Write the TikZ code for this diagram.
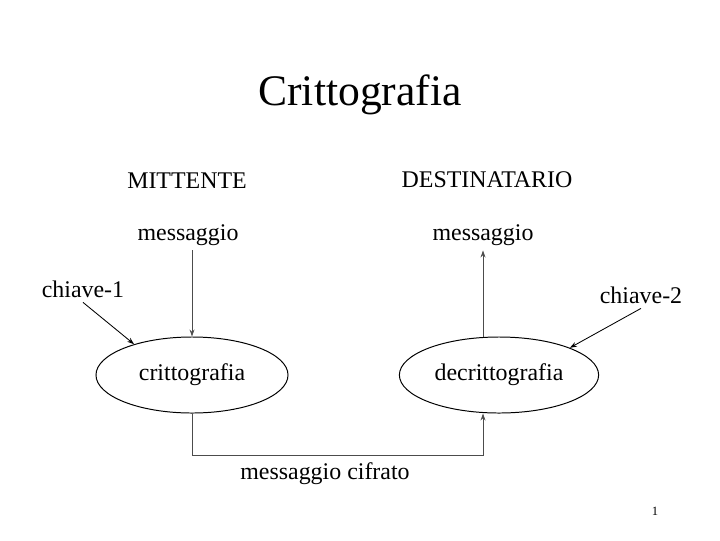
\documentclass[tikz,border=0pt]{standalone}
\usepackage{fontspec}
\setmainfont{Liberation Serif}
\usetikzlibrary{shapes.geometric,arrows.meta}
\tikzset{
  lbl/.style={font=\fontsize{17}{20}\selectfont},
  proc/.style={draw, ellipse, lbl, minimum height=1.9cm, line width=0.7pt},
  link/.style={->, gray!60!black, line width=0.6pt},
}
\begin{document}
\begin{tikzpicture}[x=0.025cm, y=-0.025cm, >={Stealth[length=5pt,width=3.5pt]}]
    \useasboundingbox (0,0) rectangle (720,540);
    \node (title) at (360,95) {\fontsize{31}{36}\selectfont Crittografia};
    \node[lbl] (mitt) at (187,181) {MITTENTE};
    \node[lbl] (dest) at (487,180) {DESTINATARIO};
    \node[lbl] (smsg) at (188,235) {messaggio};
    \node[lbl] (dmsg) at (483,235) {messaggio};
    \node[lbl] (k1) at (83,289) {chiave-1};
    \node[lbl] (k2) at (641,295) {chiave-2};
    \node[proc, minimum width=4.8cm] (critt) at (192,375) {crittografia};
    \node[proc, minimum width=4.98cm] (decr) at (499,375) {decrittografia};
    \node[lbl] (cif) at (325,474) {messaggio cifrato};
    \node (pg) at (655,511) {\fontsize{9}{11}\selectfont 1};
    % connectors
    \draw[link] (smsg.south -| critt.north) -- (critt.north);
    \draw[link] (decr.north -| dmsg.south) -- (dmsg.south);
    \draw[->, line width=0.6pt] (k1.south) -- (critt.152);
    \draw[->, line width=0.6pt] (k2.south) -- (decr.21);
    \draw[link] (critt.south) -- ++(0,42) -| (decr.south -| dmsg.south);
\end{tikzpicture}
\end{document}
